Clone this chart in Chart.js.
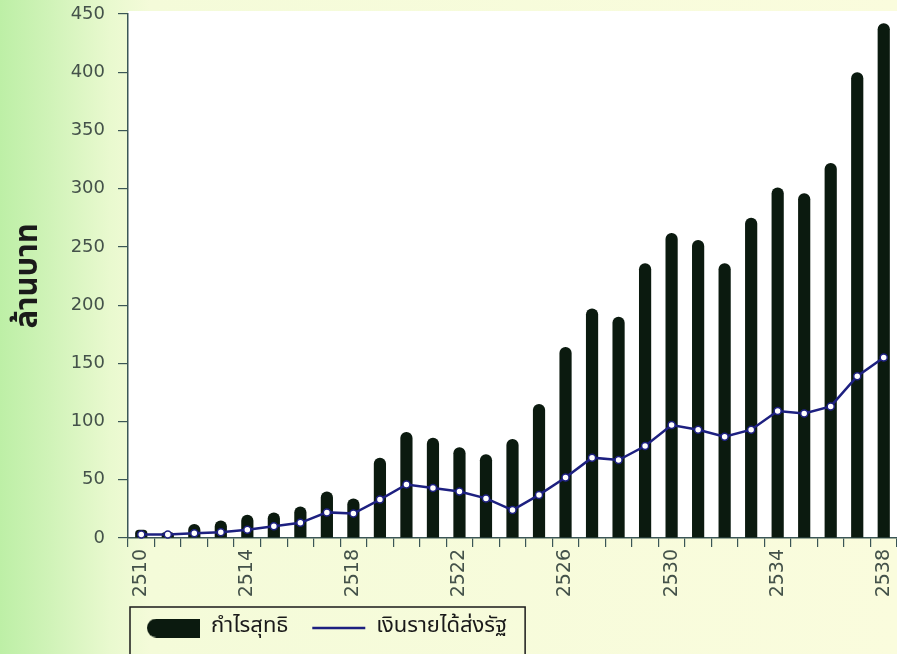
<!DOCTYPE html>
<html>
<head>
<meta charset="utf-8">
<script src="https://cdn.jsdelivr.net/npm/chart.js@4"></script>
<style>
  html, body { margin: 0; padding: 0; }
  body {
    width: 897px; height: 654px; overflow: hidden;
    background: linear-gradient(to right, #bdefa6 0px, #d0f3b8 50px, #e9f9cf 110px, #f4fbd9 150px, #fafcdd 100%);
  }
  #wrap { position: relative; width: 897px; height: 654px; }
</style>
</head>
<body>
<div id="wrap"><canvas id="getChart"></canvas></div>
<script>
const years = [];
for (let y = 2510; y <= 2538; y++) years.push(String(y));

// กำไรสุทธิ (ล้านบาท)
const netProfit = [7, 5, 12, 15, 20, 22, 27, 40, 34, 69, 91, 86, 78, 72, 85, 115, 164, 197, 190, 236, 262, 256, 236, 275, 301, 296, 322, 400, 442];
// เงินรายได้ส่งรัฐ (ล้านบาท)
const stateRevenue = [3, 3, 4, 5, 7, 10, 13, 22, 21, 33, 46, 43, 40, 34, 24, 37, 52, 69, 67, 79, 97, 93, 87, 93, 109, 107, 113, 139, 155];

const yTicks = [0, 50, 100, 150, 200, 250, 300, 350, 400, 450];

const tickFont = { family: "'DejaVu Sans', sans-serif", size: 18 };
const thaiFont = "'Noto Sans Thai', 'Loma', 'Garuda', 'Noto Sans', sans-serif";
const axisColor = "#3b5656";
const labelColor = "#44524a";
const barColor = "#0b1a0f";
const lineColor = "#1d2080";

// legend swatch for the bars: rounded on the left end only
const barSwatch = document.createElement("canvas");
barSwatch.width = 53;
barSwatch.height = 19;
(function () {
    const c = barSwatch.getContext("2d");
    c.fillStyle = barColor;
    c.beginPath();
    c.roundRect(0, 0, 53, 19, [9.5, 0, 0, 9.5]);
    c.fill();
})();

const plotBackground = {
    id: "plotBackground",
    beforeDraw(chart) {
        const { ctx, chartArea } = chart;
        ctx.save();
        ctx.fillStyle = "#ffffff";
        ctx.fillRect(chartArea.left, chartArea.top - 3, chartArea.right - chartArea.left + 2, chartArea.bottom - chartArea.top + 3);
        ctx.restore();
    },
};

const legendFrame = {
    id: "legendFrame",
    afterLayout(chart) {
        const lg = chart.legend;
        lg.left += 123;
        lg.right += 123;
        lg.top -= 5;
        lg.bottom -= 5;
    },
    afterDraw(chart) {
        const boxes = chart.legend.legendHitBoxes;
        if (!boxes || !boxes.length) return;
        const first = boxes[0];
        const last = boxes[boxes.length - 1];
        const { ctx } = chart;
        const x0 = first.left - 17;
        const x1 = last.left + last.width + 18;
        ctx.save();
        ctx.strokeStyle = "#1a1a1a";
        ctx.lineWidth = 1.5;
        ctx.strokeRect(x0, first.top - 10, x1 - x0, 80);
        ctx.restore();
    },
};

const chartInstance = new Chart(document.getElementById("getChart"), {
    type: "bar",
    data: {
        labels: years,
        datasets: [
            {
                type: "bar",
                label: "กำไรสุทธิ",
                data: netProfit,
                backgroundColor: barColor,
                borderRadius: 6,
                barPercentage: 0.46,
                categoryPercentage: 1,
                order: 1,
            },
            {
                type: "line",
                label: "เงินรายได้ส่งรัฐ",
                data: stateRevenue,
                borderColor: lineColor,
                backgroundColor: lineColor,
                borderWidth: 2.5,
                tension: 0,
                pointRadius: 3.5,
                pointBackgroundColor: "#ffffff",
                pointBorderColor: lineColor,
                pointBorderWidth: 1.5,
                clip: false,
                order: 0,
            },
        ],
    },
    options: {
        responsive: true,
        maintainAspectRatio: false,
        animation: false,
        layout: { autoPadding: false, padding: { top: 14, right: 0, left: 0, bottom: 0 } },
        plugins: {
            tooltip: { enabled: false },
            legend: {
                position: "bottom",
                align: "start",
                labels: {
                    color: "#1a1a1a",
                    font: { family: thaiFont, size: 22 },
                    boxWidth: 53,
                    boxHeight: 19,
                    padding: 24,
                    usePointStyle: true,
                    pointStyleWidth: 53,
                    sort: (a, b) => a.datasetIndex - b.datasetIndex,
                    generateLabels(chart) {
                        const items = Chart.defaults.plugins.legend.labels.generateLabels(chart);
                        items.forEach((it) => {
                            if (it.datasetIndex === 0) {
                                it.pointStyle = barSwatch;
                            } else {
                                it.pointStyle = "line";
                                it.strokeStyle = lineColor;
                                it.lineWidth = 2.5;
                            }
                        });
                        return items;
                    },
                },
            },
        },
        scales: {
            x: {
                offset: true,
                afterFit(scale) {
                    scale.height = 60;
                    scale.paddingLeft = 0;
                    scale.paddingRight = 0;
                },
                grid: {
                    offset: true,
                    drawOnChartArea: false,
                    drawTicks: true,
                    tickLength: 9,
                    color: axisColor,
                    lineWidth: 1.2,
                },
                border: { color: axisColor, width: 1.5 },
                ticks: {
                    autoSkip: false,
                    maxRotation: 90,
                    minRotation: 90,
                    padding: 2,
                    color: labelColor,
                    font: { family: "'DejaVu Sans', sans-serif", size: 19 },
                    callback(value, index) {
                        return index % 4 === 0 ? years[index] : "";
                    },
                },
            },
            y: {
                min: 0,
                max: 450,
                afterFit(scale) {
                    scale.width = 128;
                    scale.paddingTop = 0;
                    scale.paddingBottom = 0;
                },
                afterBuildTicks(scale) {
                    scale.ticks = yTicks.map((v) => ({ value: v }));
                },
                grid: {
                    drawOnChartArea: false,
                    drawTicks: true,
                    tickLength: 10,
                    color: axisColor,
                    lineWidth: 1.2,
                },
                border: { color: axisColor, width: 1.5 },
                ticks: {
                    padding: 13,
                    color: labelColor,
                    font: tickFont,
                },
                title: {
                    display: true,
                    text: "ล้านบาท",
                    color: "#1a1a1a",
                    font: { family: thaiFont, size: 31, weight: "bold" },
                    padding: { top: 12, bottom: 0 },
                },
            },
        },
    },
    plugins: [plotBackground, legendFrame],
});
</script>
</body>
</html>
